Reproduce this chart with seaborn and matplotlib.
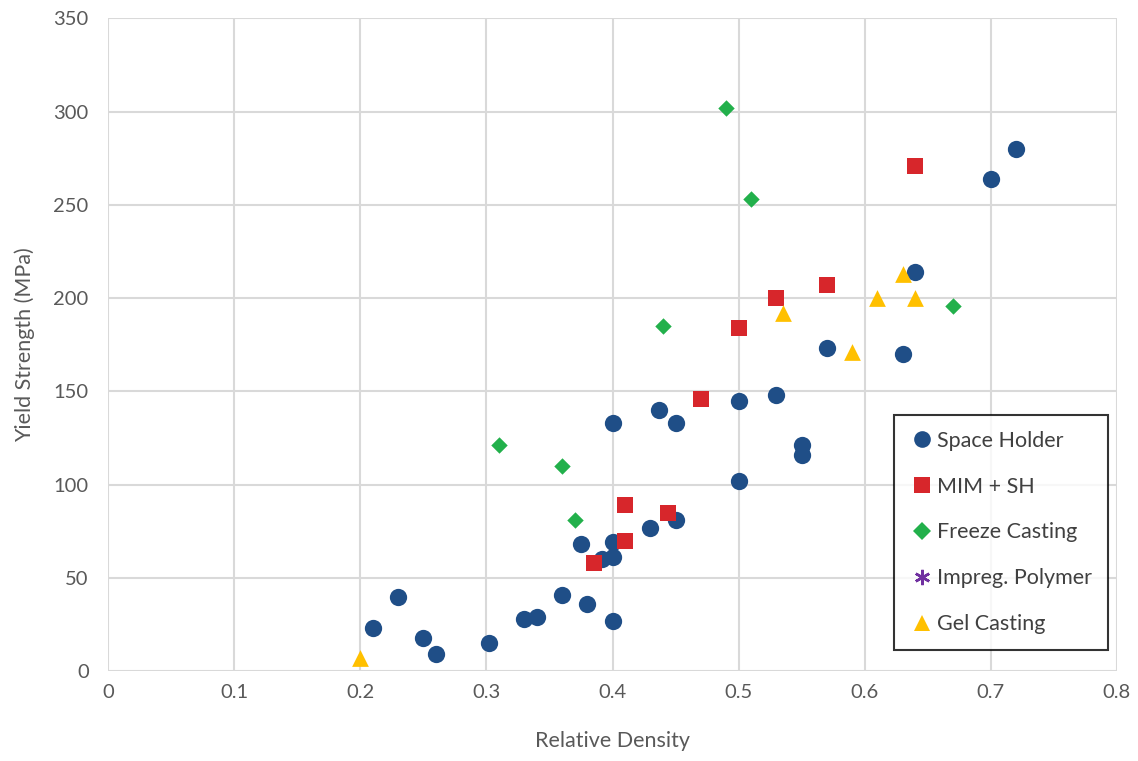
import pandas as pd
import matplotlib.pyplot as plt
import seaborn as sns
from matplotlib.lines import Line2D

# Values
space_holder_x = [0.21, 0.23, 0.25, 0.26, 0.302, 0.33, 0.34, 0.36, 0.38, 0.40,
                  0.375, 0.40, 0.392, 0.40, 0.43, 0.45, 0.40, 0.437, 0.45, 0.50,
                  0.53, 0.50, 0.55, 0.55, 0.57, 0.63, 0.64, 0.70, 0.72]
space_holder_y = [23, 40, 18, 9, 15, 28, 29, 41, 36, 27,
                  68, 69, 60, 61, 77, 81, 133, 140, 133, 145,
                  148, 102, 121, 116, 173, 170, 214, 264, 280]

mim_x = [0.385, 0.41, 0.41, 0.444, 0.47, 0.50, 0.53, 0.57, 0.64]
mim_y = [58, 70, 89, 85, 146, 184, 200, 207, 271]

freeze_x = [0.31, 0.36, 0.37, 0.44, 0.49, 0.51, 0.67]
freeze_y = [121, 110, 81, 185, 302, 253, 196]

impreg_x = []
impreg_y = []

gel_x = [0.20, 0.535, 0.59, 0.61, 0.63, 0.64]
gel_y = [7, 192, 171, 200, 213, 200]

series = ["Space Holder", "MIM + SH", "Freeze Casting", "Impreg. Polymer", "Gel Casting"]
colors = ["#1F4E87", "#D7262B", "#22B04B", "#7030A0", "#FFC000"]
markers = ["o", "s", "D", (6, 2, 0), "^"]
sizes = [155, 135, 70, 90, 145]

data = {
    "Space Holder": (space_holder_x, space_holder_y),
    "MIM + SH": (mim_x, mim_y),
    "Freeze Casting": (freeze_x, freeze_y),
    "Impreg. Polymer": (impreg_x, impreg_y),
    "Gel Casting": (gel_x, gel_y),
}

sns.set_style("white")
plt.rcParams['font.family'] = ['Lato', 'DejaVu Sans']

fig = plt.figure(figsize=(11.38, 7.61), dpi=100)
ax = fig.add_axes([0.095, 0.118, 0.8865, 0.858])

handles = []
for name, color, marker, size in zip(series, colors, markers, sizes):
    xs, ys = data[name]
    if len(xs) > 0:
        df = pd.DataFrame({"x": xs, "y": ys})
        sns.scatterplot(data=df, x="x", y="y", ax=ax, color=color, marker=marker,
                        s=size, linewidth=0, zorder=3)
    if marker == (6, 2, 0):
        h = Line2D([], [], linestyle="none", marker=marker, color=color,
                   markersize=11, markeredgewidth=1.8)
    else:
        h = Line2D([], [], linestyle="none", marker=marker, color=color,
                   markersize=12 if marker != "D" else 9, markeredgewidth=0)
    handles.append(h)

ax.set_xlim(0, 0.8)
ax.set_ylim(0, 350)
ax.set_xticks([0, 0.1, 0.2, 0.3, 0.4, 0.5, 0.6, 0.7, 0.8])
ax.set_xticklabels(["0", "0.1", "0.2", "0.3", "0.4", "0.5", "0.6", "0.7", "0.8"])
ax.set_yticks(range(0, 351, 50))

ax.grid(True, color="#D9D9D9", linewidth=1.5)
ax.set_axisbelow(True)
for s in ax.spines.values():
    s.set_visible(False)

ax.tick_params(axis="both", labelsize=14.5, colors="#595959", length=0)
ax.tick_params(axis="y", pad=14)
ax.tick_params(axis="x", pad=9)
ax.set_xlabel("Relative Density", fontsize=15.5, color="#595959", labelpad=22)
ax.set_ylabel("Yield Strength (MPa)", fontsize=15.5, color="#595959", labelpad=13)

leg = ax.legend(handles, series, loc="lower right", bbox_to_anchor=(0.991, 0.032),
                borderaxespad=0, frameon=True, fontsize=15.5, handletextpad=0.15,
                handlelength=1.1, labelspacing=1.2, borderpad=0.75,
                fancybox=False, labelcolor="#404040")
leg.get_frame().set_edgecolor("black")
leg.get_frame().set_linewidth(1.5)

plt.savefig("out.png", dpi=100)
